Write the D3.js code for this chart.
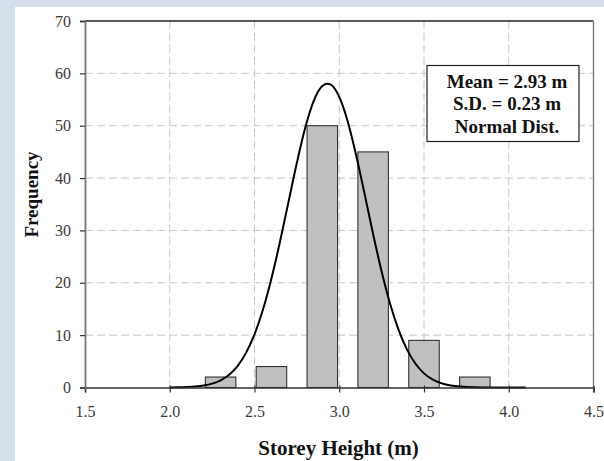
<!DOCTYPE html>
<html>
<head>
<meta charset="utf-8">
<script src="https://cdn.jsdelivr.net/npm/d3@7"></script>
<style>
  html, body { margin: 0; padding: 0; background: #d5dfeb; }
  svg { display: block; }
</style>
</head>
<body>
<svg id="chart" width="604" height="461"></svg>
<script>
// ---- data ----
const binCenters = [2.3, 2.6, 2.9, 3.2, 3.5, 3.8];
const binCounts = [2, 4, 50, 45, 9, 2];
const binWidth = 0.18;
const curveX = [2.00, 2.05, 2.10, 2.15, 2.20, 2.25, 2.30, 2.35, 2.40, 2.45, 2.50, 2.55, 2.60, 2.65, 2.70, 2.75, 2.80, 2.85, 2.90, 2.93, 2.95, 3.00, 3.05, 3.10, 3.15, 3.20, 3.25, 3.30, 3.35, 3.40, 3.45, 3.50, 3.55, 3.60, 3.65, 3.70, 3.75, 3.80, 3.85, 3.90, 3.95, 4.00, 4.05, 4.10];
const curveY = [0.02, 0.04, 0.09, 0.19, 0.38, 0.74, 1.37, 2.42, 4.10, 6.61, 10.15, 14.89, 20.83, 27.79, 35.36, 42.92, 49.70, 54.80, 57.60, 58.00, 57.85, 55.50, 50.80, 44.30, 36.90, 29.27, 22.15, 15.99, 11.01, 7.23, 4.53, 2.70, 1.54, 0.84, 0.43, 0.22, 0.10, 0.05, 0.02, 0.01, 0.00, 0.00, 0.00, 0.00];
const xTicks = [1.5, 2.0, 2.5, 3.0, 3.5, 4.0, 4.5];
const yTicks = [0, 10, 20, 30, 40, 50, 60, 70];
const legendLines = ["Mean = 2.93 m", "S.D. = 0.23 m", "Normal Dist."];
const xTitle = "Storey Height (m)";
const yTitle = "Frequency";

// ---- layout ----
const svg = d3.select("#chart");
const L = 85, R = 593.5, T = 21, B = 387.5;
const x = d3.scaleLinear().domain([1.5, 4.5]).range([L, R]);
const y = d3.scaleLinear().domain([0, 70]).range([B, T]);
const serif = "'Liberation Serif', 'Times New Roman', serif";

// white panel
svg.append("rect").attr("x", 15).attr("y", 7).attr("width", 589).attr("height", 454).attr("fill", "#ffffff");

// grid
const grid = svg.append("g");
grid.selectAll("line.h").data(yTicks.filter(d => d > 0 && d < 70)).join("line")
  .attr("x1", L).attr("x2", R).attr("y1", d => y(d)).attr("y2", d => y(d))
  .attr("stroke", "#c8c8c8").attr("stroke-width", 1).attr("stroke-dasharray", "8,4");
grid.selectAll("line.v").data(xTicks.filter(d => d > 1.5 && d < 4.5)).join("line")
  .attr("x1", d => x(d)).attr("x2", d => x(d)).attr("y1", T).attr("y2", B)
  .attr("stroke", "#c8c8c8").attr("stroke-width", 1).attr("stroke-dasharray", "8,4");

// bars
svg.append("g").selectAll("rect").data(binCenters).join("rect")
  .attr("x", (d) => x(d - binWidth / 2))
  .attr("width", (d) => x(d + binWidth / 2) - x(d - binWidth / 2))
  .attr("y", (d, i) => y(binCounts[i]))
  .attr("height", (d, i) => y(0) - y(binCounts[i]))
  .attr("fill", "#c0c0c0").attr("stroke", "#333").attr("stroke-width", 1.1);

// frame: top & right
svg.append("line").attr("x1", L).attr("x2", R).attr("y1", T).attr("y2", T).attr("stroke", "#222").attr("stroke-width", 1.3);
svg.append("line").attr("x1", R).attr("x2", R).attr("y1", T).attr("y2", B).attr("stroke", "#777").attr("stroke-width", 1.3);

// curve
const line = d3.line().x((d, i) => x(d)).y((d, i) => y(curveY[i])).curve(d3.curveMonotoneX);
svg.append("path").datum(curveX).attr("d", line)
  .attr("fill", "none").attr("stroke", "#000").attr("stroke-width", 2);

// axes
const xAxis = d3.axisBottom(x).tickValues(xTicks).tickFormat(d3.format(".1f")).tickSize(5).tickPadding(13);
const gx = svg.append("g").attr("transform", `translate(0,${B})`).call(xAxis);
gx.select(".domain").attr("stroke", "#333").attr("stroke-width", 1.5);
gx.selectAll(".tick line").attr("stroke", "#333").attr("stroke-width", 1.2).attr("y1", -2);
gx.selectAll("text").attr("font-family", serif).attr("font-size", 16).attr("fill", "#3a3a3a");

const yAxis = d3.axisLeft(y).tickValues(yTicks).tickSize(5).tickPadding(9);
const gy = svg.append("g").attr("transform", `translate(${L},0)`).call(yAxis);
gy.select(".domain").attr("stroke", "#777").attr("stroke-width", 1.8);
gy.selectAll(".tick line").attr("stroke", "#333").attr("stroke-width", 1.2);
gy.selectAll("text").attr("font-family", serif).attr("font-size", 16).attr("fill", "#3a3a3a");

// titles
svg.append("text").attr("x", 338.5).attr("y", 455).attr("text-anchor", "middle")
  .attr("font-family", serif).attr("font-weight", "bold").attr("font-size", 21).attr("fill", "#111")
  .text(xTitle);
svg.append("text").attr("transform", "translate(38,194.5) rotate(-90)").attr("text-anchor", "middle")
  .attr("font-family", serif).attr("font-weight", "bold").attr("font-size", 19).attr("fill", "#111")
  .text(yTitle);

// legend box
const lg = svg.append("g");
lg.append("rect").attr("x", 427).attr("y", 65.5).attr("width", 152).attr("height", 76)
  .attr("fill", "#fff").attr("stroke", "#222").attr("stroke-width", 1.2);
lg.selectAll("text").data(legendLines).join("text")
  .attr("x", 507).attr("y", (d, i) => 88 + i * 22.3).attr("text-anchor", "middle")
  .attr("font-family", serif).attr("font-weight", "bold").attr("font-size", 19).attr("fill", "#111")
  .text(d => d);
</script>
</body>
</html>
